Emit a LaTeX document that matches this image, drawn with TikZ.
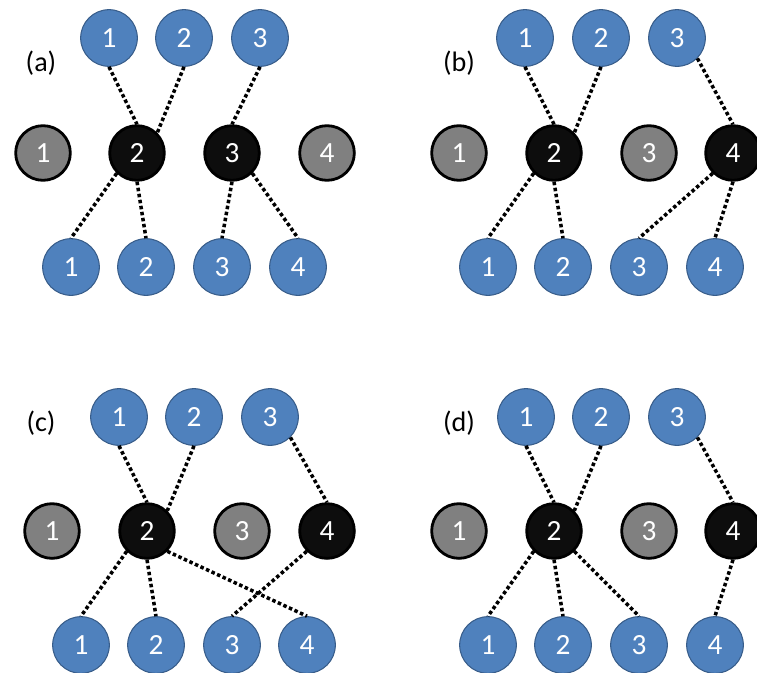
\documentclass[tikz,border=0pt]{standalone}
\usepackage{fontspec}
\setmainfont{Carlito}
\usetikzlibrary{arrows,positioning}
\definecolor{leafblue}{HTML}{4F81BD}
\definecolor{leafrim}{HTML}{385D8A}
\definecolor{idlegray}{HTML}{808080}
\definecolor{busyblack}{HTML}{0D0D0D}
\begin{document}
\begin{tikzpicture}[x=0.03cm,y=-0.03cm]
\tikzstyle{leaf}=[circle,draw=leafrim,fill=leafblue,line width=0.9pt,minimum size=1.70cm,inner sep=0pt,text=white,font=\fontsize{25}{29}\selectfont]
\tikzstyle{idle}=[leaf,draw=black,fill=idlegray,line width=2.4pt,minimum size=1.64cm]
\tikzstyle{busy}=[leaf,draw=black,fill=busyblack,line width=2.4pt,minimum size=1.64cm]
\tikzstyle{link}=[line width=3pt,dash pattern=on 3pt off 2.2pt]
\tikzstyle{tag}=[font=\fontsize{24}{28}\selectfont]
\useasboundingbox (0,0) rectangle (757,672);

\node[tag] (la) at (41,63) {(a)};
\node[leaf] (ta1) at (109,38) {1};
\node[leaf] (ta2) at (184,38) {2};
\node[leaf] (ta3) at (260,38) {3};
\node[idle] (ma1) at (43,153) {1};
\node[busy] (ma2) at (137,153) {2};
\node[busy] (ma3) at (232,153) {3};
\node[idle] (ma4) at (327,153) {4};
\node[leaf] (ba1) at (71,267) {1};
\node[leaf] (ba2) at (146,267) {2};
\node[leaf] (ba3) at (222,267) {3};
\node[leaf] (ba4) at (298,267) {4};
\draw[link] (ta1.south) -- (ma2.north);
\draw[link] (ta2.south) -- (ma2.north east);
\draw[link] (ta3.south) -- (ma3.north);
\draw[link] (ma2.south west) -- (ba1.north);
\draw[link] (ma2.south) -- (ba2.north);
\draw[link] (ma3.south) -- (ba3.north);
\draw[link] (ma3.south east) -- (ba4.north);

\node[tag] (lb) at (459,63) {(b)};
\node[leaf] (tb1) at (525,38) {1};
\node[leaf] (tb2) at (601,38) {2};
\node[leaf] (tb3) at (677,38) {3};
\node[idle] (mb1) at (459,153) {1};
\node[busy] (mb2) at (554,153) {2};
\node[idle] (mb3) at (649,153) {3};
\node[busy] (mb4) at (733,153) {4};
\node[leaf] (bb1) at (488,267) {1};
\node[leaf] (bb2) at (563,267) {2};
\node[leaf] (bb3) at (639,267) {3};
\node[leaf] (bb4) at (715,267) {4};
\draw[link] (tb1.south) -- (mb2.north);
\draw[link] (tb2.south) -- (mb2.north east);
\draw[link] (tb3.south east) -- (mb4.north);
\draw[link] (mb2.south west) -- (bb1.north);
\draw[link] (mb2.south) -- (bb2.north);
\draw[link] (mb4.south west) -- (bb3.north);
\draw[link] (mb4.south) -- (bb4.north);

\node[tag] (lc) at (41,423) {(c)};
\node[leaf] (tc1) at (119,417) {1};
\node[leaf] (tc2) at (194,417) {2};
\node[leaf] (tc3) at (270,417) {3};
\node[idle] (mc1) at (52,531) {1};
\node[busy] (mc2) at (147,531) {2};
\node[idle] (mc3) at (242,531) {3};
\node[busy] (mc4) at (327,531) {4};
\node[leaf] (bc1) at (81,645) {1};
\node[leaf] (bc2) at (156,645) {2};
\node[leaf] (bc3) at (232,645) {3};
\node[leaf] (bc4) at (307,645) {4};
\draw[link] (tc1.south) -- (mc2.north);
\draw[link] (tc2.south) -- (mc2.north east);
\draw[link] (tc3.south east) -- (mc4.north);
\draw[link] (mc2.south west) -- (bc1.north);
\draw[link] (mc2.south) -- (bc2.north);
\draw[link] (mc2.south east) -- (bc4.north);
\draw[link] (mc4.south west) -- (bc3.north);

\node[tag] (ld) at (459,423) {(d)};
\node[leaf] (td1) at (526,417) {1};
\node[leaf] (td2) at (601,417) {2};
\node[leaf] (td3) at (677,417) {3};
\node[idle] (md1) at (459,531) {1};
\node[busy] (md2) at (554,531) {2};
\node[idle] (md3) at (649,531) {3};
\node[busy] (md4) at (733,531) {4};
\node[leaf] (bd1) at (488,645) {1};
\node[leaf] (bd2) at (563,645) {2};
\node[leaf] (bd3) at (639,645) {3};
\node[leaf] (bd4) at (715,645) {4};
\draw[link] (td1.south) -- (md2.north);
\draw[link] (td2.south) -- (md2.north east);
\draw[link] (td3.south east) -- (md4.north);
\draw[link] (md2.south west) -- (bd1.north);
\draw[link] (md2.south) -- (bd2.north);
\draw[link] (md2.south east) -- (bd3.north);
\draw[link] (md4.south) -- (bd4.north);
\end{tikzpicture}
\end{document}
